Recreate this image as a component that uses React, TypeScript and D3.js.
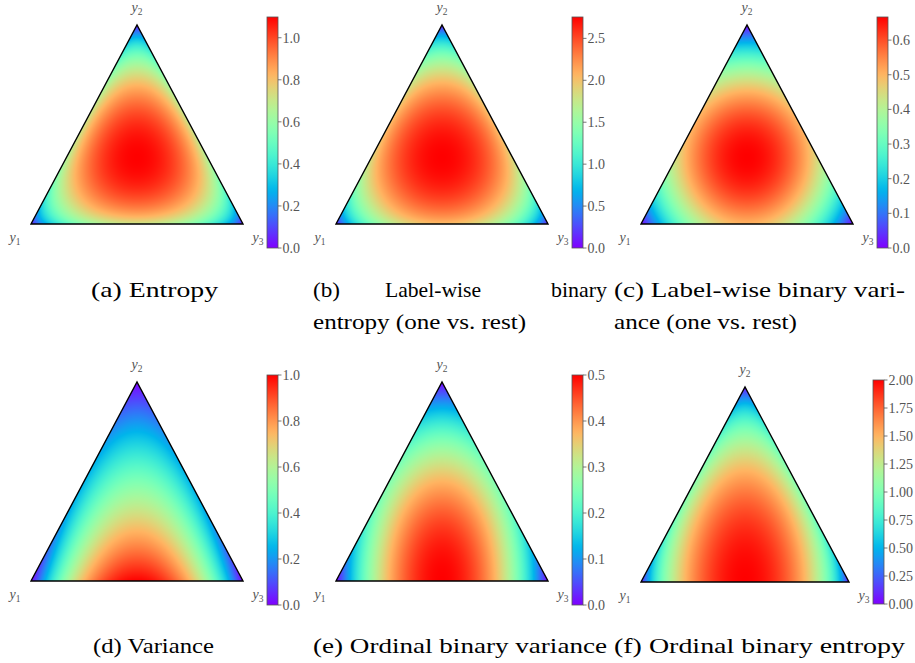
import React, { useMemo } from 'react';
import * as d3 from 'd3';

const W = 915;
const H = 663;

// Names of the three simplex corners: bottom-left, apex, bottom-right
const cornerIndex = ['1', '2', '3'];

// Colour-bar ticks of each panel
const ticksEntropy = [0, 0.2, 0.4, 0.6, 0.8, 1.0];
const ticksLabelwiseEntropy = [0, 0.5, 1.0, 1.5, 2.0, 2.5];
const ticksLabelwiseVariance = [0, 0.1, 0.2, 0.3, 0.4, 0.5, 0.6];
const ticksVariance = [0, 0.2, 0.4, 0.6, 0.8, 1.0];
const ticksOrdinalVariance = [0, 0.1, 0.2, 0.3, 0.4, 0.5];
const ticksOrdinalEntropy = [0, 0.25, 0.5, 0.75, 1.0, 1.25, 1.5, 1.75, 2.0];

const tickFormats = ['.1f', '.1f', '.1f', '.1f', '.1f', '.2f'];

// Uncertainty measures over a class distribution (p1, p2, p3)
const nlogn = (p: number, log: (v: number) => number) => (p > 1e-12 ? -p * log(p) : 0);
const hb2 = (p: number) => nlogn(p, Math.log2) + nlogn(1 - p, Math.log2);

type Measure = (p1: number, p2: number, p3: number) => number;

const entropy: Measure = (a, b, c) => nlogn(a, Math.log) + nlogn(b, Math.log) + nlogn(c, Math.log);
const labelwiseEntropy: Measure = (a, b, c) => hb2(a) + hb2(b) + hb2(c);
const labelwiseVariance: Measure = (a, b, c) => a * (1 - a) + b * (1 - b) + c * (1 - c);
const variance: Measure = (a, b, c) => {
  const m = a * 1 + b * 2 + c * 3;
  const m2 = a * 1 + b * 4 + c * 9;
  return m2 - m * m;
};
const ordinalVariance: Measure = (a, b, c) => {
  const g1 = b + c;
  const g2 = c;
  return g1 * (1 - g1) + g2 * (1 - g2);
};
const ordinalEntropy: Measure = (a, b, c) => hb2(b + c) + hb2(c);

const measures = [entropy, labelwiseEntropy, labelwiseVariance, variance, ordinalVariance, ordinalEntropy];
const tickSets = [ticksEntropy, ticksLabelwiseEntropy, ticksLabelwiseVariance, ticksVariance, ticksOrdinalVariance, ticksOrdinalEntropy];

// Panel geometry: triangle (left, right, base, apex) and colour bar (x, top, bottom)
const panels = [
  { x0: 31, x1: 243, yb: 224, yt: 25, cbx: 267, cbt: 17, cbb: 248 },
  { x0: 336, x1: 548, yb: 224, yt: 25, cbx: 572, cbt: 17, cbb: 248 },
  { x0: 641, x1: 853, yb: 224, yt: 25, cbx: 877, cbt: 17, cbb: 248 },
  { x0: 31, x1: 243, yb: 581, yt: 382, cbx: 267, cbt: 375, cbb: 605 },
  { x0: 336, x1: 548, yb: 581, yt: 382, cbx: 572, cbt: 375, cbb: 605 },
  { x0: 641, x1: 849, yb: 582, yt: 387, cbx: 873, cbt: 380, cbb: 604 },
];
const CBW = 11;

// matplotlib "rainbow" colour map
const clamp01 = (v: number) => Math.max(0, Math.min(1, v));
const rainbowRGB = (t: number): [number, number, number] => [
  Math.round(255 * clamp01(Math.abs(2 * t - 0.5))),
  Math.round(255 * clamp01(Math.sin(Math.PI * t))),
  Math.round(255 * clamp01(Math.cos((Math.PI * t) / 2))),
];
const rainbow = (t: number) => {
  const [r, g, b] = rainbowRGB(t);
  return `rgb(${r},${g},${b})`;
};

function fieldMax(f: Measure) {
  const n = 300;
  let m = 0;
  for (let i = 0; i <= n; i++) {
    for (let j = 0; i + j <= n; j++) {
      const v = f(i / n, j / n, (n - i - j) / n);
      if (v > m) m = v;
    }
  }
  return m;
}

function renderField(f: Measure, p: typeof panels[0], vmax: number) {
  const s = 2;
  const w = (p.x1 - p.x0) * s;
  const h = (p.yb - p.yt) * s;
  const canvas = document.createElement('canvas');
  canvas.width = w;
  canvas.height = h;
  const ctx = canvas.getContext('2d');
  if (!ctx) return '';
  const img = ctx.createImageData(w, h);
  const norm = d3.scaleLinear().domain([0, vmax]).range([0, 1]).clamp(true);
  const xm = (p.x0 + p.x1) / 2;
  for (let py = 0; py < h; py++) {
    const y = p.yt + (py + 0.5) / s;
    const p2 = clamp01((p.yb - y) / (p.yb - p.yt));
    for (let px = 0; px < w; px++) {
      const x = p.x0 + (px + 0.5) / s;
      let p3 = (x - p.x0 - p2 * (xm - p.x0)) / (p.x1 - p.x0);
      p3 = Math.max(0, Math.min(1 - p2, p3));
      const p1 = Math.max(0, 1 - p2 - p3);
      const [r, g, b] = rainbowRGB(norm(f(p1, p2, p3)));
      const k = (py * w + px) * 4;
      img.data[k] = r;
      img.data[k + 1] = g;
      img.data[k + 2] = b;
      img.data[k + 3] = 255;
    }
  }
  ctx.putImageData(img, 0, 0);
  return canvas.toDataURL();
}

const serif = "'Liberation Serif', 'Times New Roman', Times, serif";

function CornerLabel({ x, y, idx }: { x: number; y: number; idx: string }) {
  return (
    <text x={x} y={y} textAnchor="middle" style={{ fontFamily: serif }} fontStyle="italic" fontSize={14} fill="#555">
      y<tspan fontSize={9.5} dy={3} fontStyle="normal">{idx}</tspan>
    </text>
  );
}

function Panel({ i }: { i: number }) {
  const p = panels[i];
  const f = measures[i];
  const ticks = tickSets[i];
  const vmax = useMemo(() => fieldMax(f), [f]);
  const href = useMemo(() => renderField(f, p, vmax), [f, p, vmax]);
  const xm = (p.x0 + p.x1) / 2;
  const tri = `${p.x0},${p.yb} ${xm},${p.yt} ${p.x1},${p.yb}`;
  const yScale = d3.scaleLinear().domain([0, vmax]).range([p.cbb, p.cbt]);
  const fmt = d3.format(tickFormats[i]);
  const gid = `cb-grad-${i}`;
  const cid = `tri-clip-${i}`;
  const stops = d3.range(0, 1.0001, 0.02);
  return (
    <g>
      <defs>
        <clipPath id={cid}>
          <polygon points={tri} />
        </clipPath>
        <linearGradient id={gid} x1="0" y1="1" x2="0" y2="0">
          {stops.map((t) => (
            <stop key={t} offset={t} stopColor={rainbow(t)} />
          ))}
        </linearGradient>
      </defs>
      <image
        href={href}
        x={p.x0}
        y={p.yt}
        width={p.x1 - p.x0}
        height={p.yb - p.yt}
        preserveAspectRatio="none"
        clipPath={`url(#${cid})`}
      />
      <polygon points={tri} fill="none" stroke="#000" strokeWidth={1.4} strokeLinejoin="miter" />
      <CornerLabel x={p.x0 - 16} y={p.yb + 18} idx={cornerIndex[0]} />
      <CornerLabel x={xm} y={p.yt - 13} idx={cornerIndex[1]} />
      <CornerLabel x={p.x1 + 15} y={p.yb + 18} idx={cornerIndex[2]} />
      <rect x={p.cbx} y={p.cbt} width={CBW} height={p.cbb - p.cbt} fill={`url(#${gid})`} stroke="#555" strokeWidth={0.8} />
      {ticks.map((t) => (
        <g key={t} transform={`translate(${p.cbx + CBW},${yScale(t)})`}>
          <line x1={0} x2={3.5} stroke="#555" strokeWidth={0.8} />
          <text x={4.5} dy="0.35em" style={{ fontFamily: serif }} fontSize={14} fill="#555">
            {fmt(t)}
          </text>
        </g>
      ))}
    </g>
  );
}

type Piece = { text: string; x: number; y: number; w: number };

// Sub-figure captions, laid out as justified lines
const captionPieces: Piece[] = [
  { text: '(a) Entropy', x: 91, y: 297, w: 127 },
  { text: '(b)', x: 313, y: 297, w: 27 },
  { text: 'Label-wise', x: 385, y: 297, w: 96 },
  { text: 'binary', x: 551, y: 297, w: 56 },
  { text: 'entropy (one vs. rest)', x: 313, y: 329, w: 213 },
  { text: '(c) Label-wise binary vari-', x: 614, y: 297, w: 291 },
  { text: 'ance (one vs. rest)', x: 614, y: 329, w: 183 },
  { text: '(d) Variance', x: 93, y: 653, w: 121 },
  { text: '(e) Ordinal binary variance', x: 313, y: 653, w: 294 },
  { text: '(f) Ordinal binary entropy', x: 614, y: 653, w: 291 },
];

export default function App() {
  return (
    <svg width={W} height={H} viewBox={`0 0 ${W} ${H}`} style={{ display: 'block', position: 'absolute', left: 0, top: 0, background: '#fff' }}>
      <rect width={W} height={H} fill="#fff" />
      {panels.map((_, i) => (
        <Panel key={i} i={i} />
      ))}
      {captionPieces.map((c) => (
        <text
          key={c.text}
          x={c.x}
          y={c.y}
          style={{ fontFamily: serif }}
          fontSize={22}
          fill="#000"
          textLength={c.w}
          lengthAdjust="spacingAndGlyphs"
        >
          {c.text}
        </text>
      ))}
    </svg>
  );
}
